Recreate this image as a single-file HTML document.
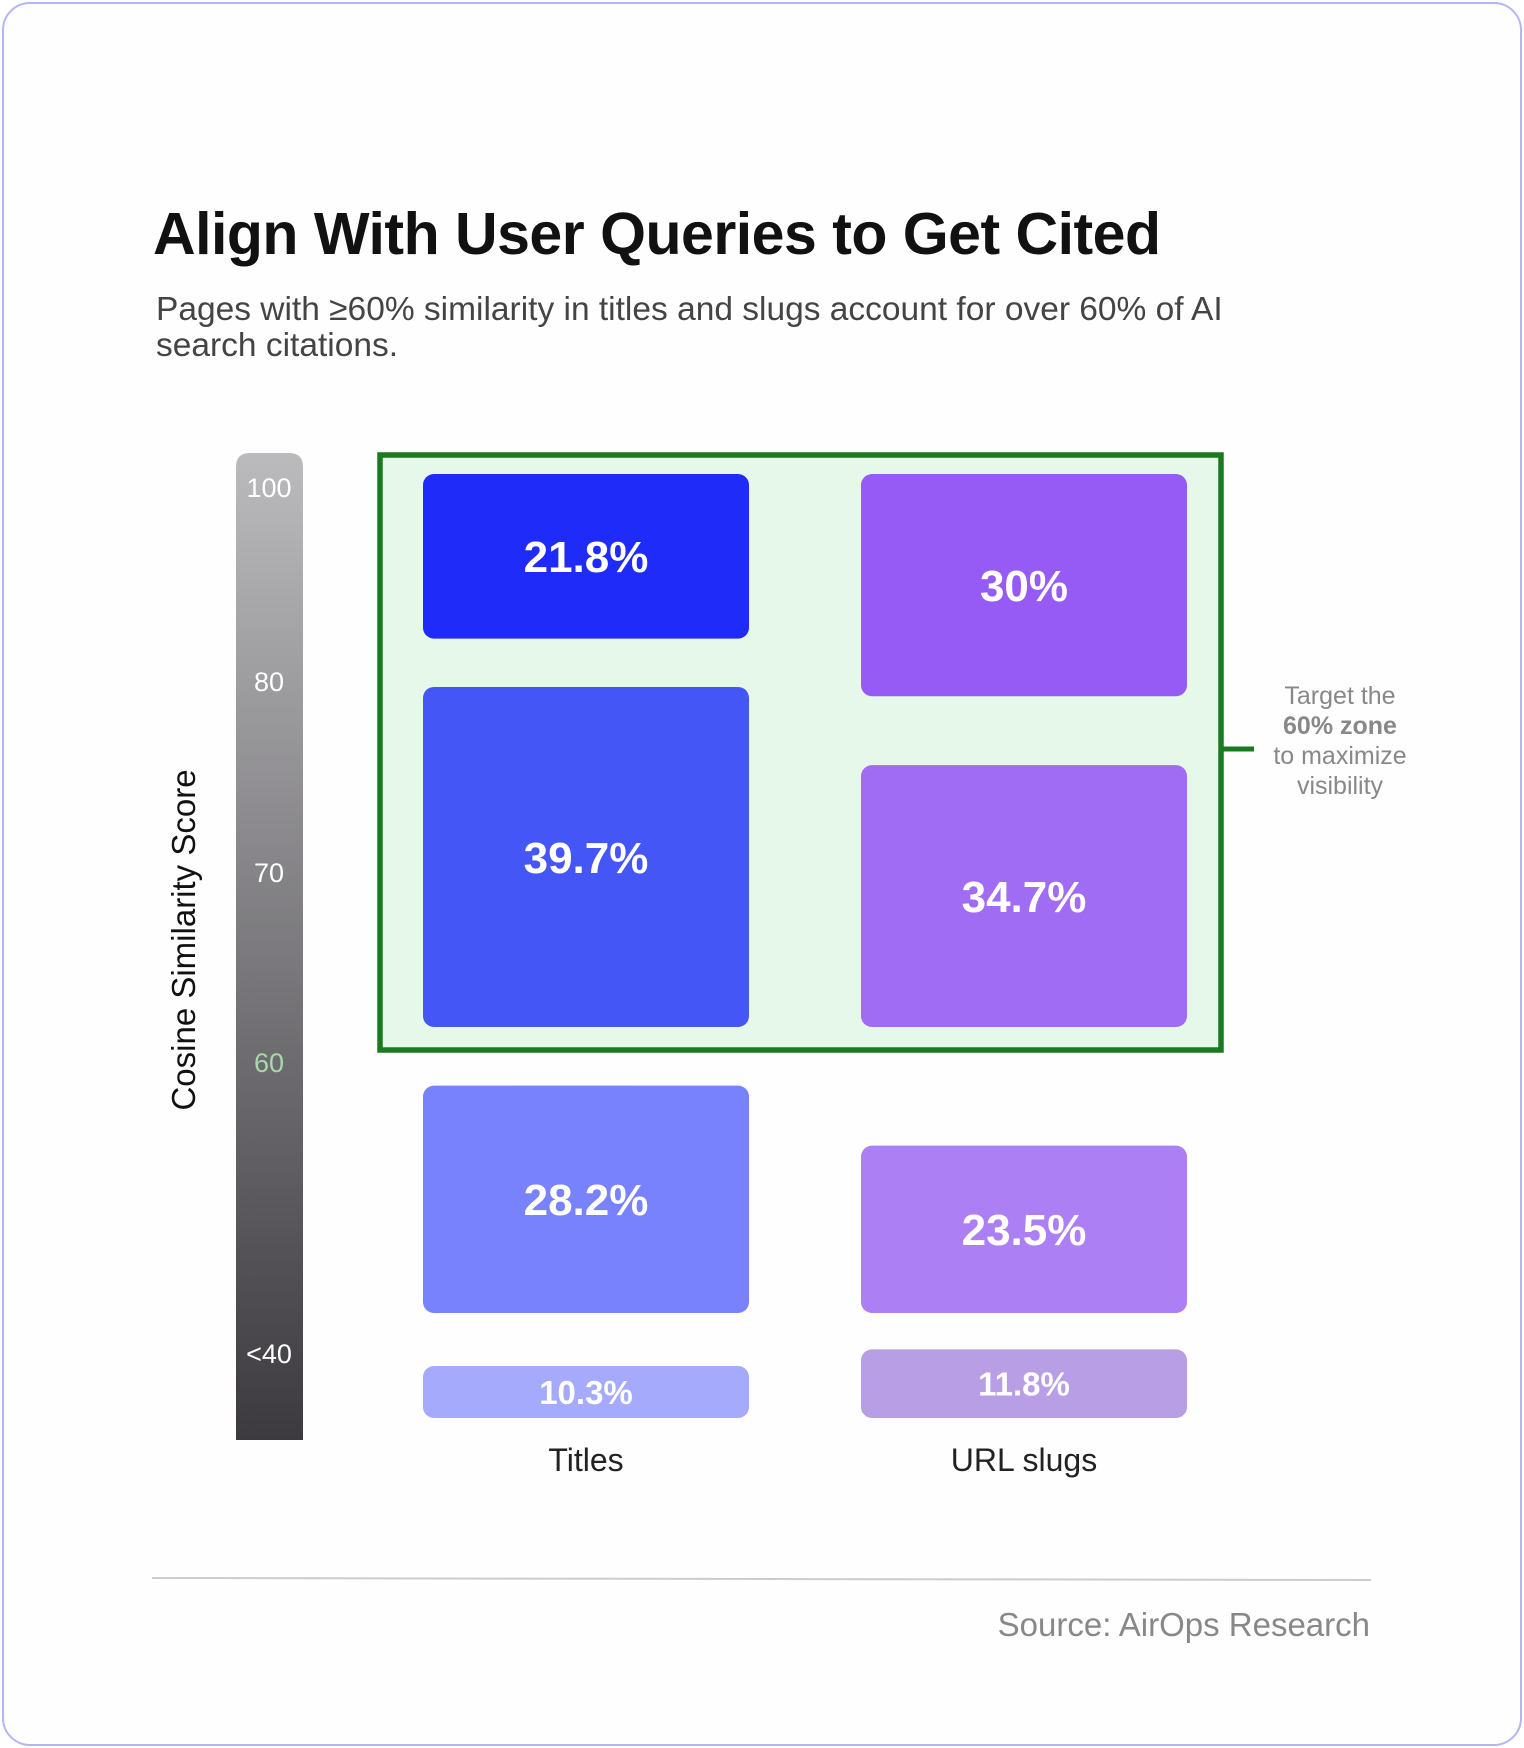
<!DOCTYPE html>
<html><head><meta charset="utf-8"><style>
body{margin:0;background:#fff;font-family:"Liberation Sans",sans-serif;}
#frame{position:absolute;left:2px;top:2px;width:1516px;height:1740px;border:2px solid #b3b6f4;border-radius:28px;background:#fefefe;}
.t{position:absolute;white-space:nowrap;}
</style></head><body>
<div id="frame"></div>
<div class="t" style="left:153px;top:200px;font-size:59px;font-weight:bold;color:#111;letter-spacing:-0.5px">Align With User Queries to Get Cited</div>
<div class="t" style="left:156px;top:292px;font-size:33.5px;color:#444;line-height:36px">Pages with ≥60% similarity in titles and slugs account for over 60% of AI<br>search citations.</div>
<svg id="chart" width="1524" height="1748" style="position:absolute;left:0;top:0">
<defs><linearGradient id="g" x1="0" y1="0" x2="0" y2="1"><stop offset="0" stop-color="#bbbabd"/><stop offset="1" stop-color="#3c3a3e"/></linearGradient></defs>
</svg>
<script>
const categories=["Titles","URL slugs"];
const titlesValues=[21.8,39.7,28.2,10.3];
const slugsValues=[30,34.7,23.5,11.8];
const tickLabels=["100","80","70","60","<40"];
const tickScores=[100,80,70,60,40];
const svg=document.getElementById('chart');
const NS="http://www.w3.org/2000/svg";
function mk(tag,attrs,parent){const e=document.createElementNS(NS,tag);for(const k in attrs)e.setAttribute(k,attrs[k]);(parent||svg).appendChild(e);return e;}
const colScale=[{k:9.8,b:-49},{k:8.44,b:-31}];
function h(v,ci){return colScale[ci].b+colScale[ci].k*v;}
const scoreKnots=[100,80,70,60,40],scoreY=[488,682,873,1063,1354];
function yScore(s){for(let i=0;i<scoreKnots.length-1;i++){if(s<=scoreKnots[i]&&s>=scoreKnots[i+1]){const f=(scoreKnots[i]-s)/(scoreKnots[i]-scoreKnots[i+1]);return scoreY[i]+f*(scoreY[i+1]-scoreY[i]);}}return scoreY[scoreY.length-1];}
const colX=[423,861],colW=326;
const colColors=[["#1f2bf8","#4456f5","#7882fc","#a5aafc"],["#975bf5","#a06cf3","#ad7ff5","#b89ee4"]];
const gb=mk('path',{d:"M236 467 Q236 453 250 453 L289 453 Q303 453 303 467 L303 1440 L236 1440 Z",fill:"url(#g)"});


tickLabels.forEach((l,i)=>{const t=mk('text',{x:269,y:yScore(tickScores[i])+9,'text-anchor':'middle','font-size':27,fill:tickScores[i]===60?'#a8d9a8':'#fff'});t.textContent=l;

});
const yt=mk('text',{x:0,y:0,transform:'translate(195,940) rotate(-90)','text-anchor':'middle','font-size':33,fill:'#111'});yt.textContent="Cosine Similarity Score";


const zone=mk('rect',{x:380,y:455,width:841,height:595,fill:'#e6f8e9',stroke:'#1a7a1f','stroke-width':5.5});


const conn=mk('line',{x1:1221,y1:749,x2:1254,y2:749,stroke:'#1a7a1f','stroke-width':5});


function drawCol(vals,ci){
  const x=colX[ci];
  const tops=[474,1027-h(vals[1],ci),1313-h(vals[2],ci),1418-h(vals[3],ci)];
  vals.forEach((v,i)=>{
    const hh=h(v,ci);
    const r=mk('rect',{x:x,y:tops[i],width:colW,height:hh,rx:11,fill:colColors[ci][i]});
    
    
    const fs=i===3?33:44;
    const t=mk('text',{x:x+colW/2,y:tops[i]+hh/2+fs*0.36,'text-anchor':'middle','font-size':fs,'font-weight':'bold',fill:'#fff'});
    t.textContent=v+'%';
    
    
  });
  const c=mk('text',{x:x+colW/2,y:1471,'text-anchor':'middle','font-size':32,fill:'#222'});c.textContent=categories[ci];
  
  
}
drawCol(titlesValues,0);drawCol(slugsValues,1);
const ann=[["Target the",false],["60% zone",true],["to maximize",false],["visibility",false]];
ann.forEach((a,i)=>{const t=mk('text',{x:1340,y:704+i*30,'text-anchor':'middle','font-size':25,fill:'#888','font-weight':a[1]?'bold':'normal'});t.textContent=a[0];

});
const dv=mk('line',{x1:152,y1:1578,x2:1371,y2:1580,stroke:'#ccc','stroke-width':2});


const src=mk('text',{x:1370,y:1636,'text-anchor':'end','font-size':33,fill:'#888'});src.textContent="Source: AirOps Research";


</script>
</body></html>
